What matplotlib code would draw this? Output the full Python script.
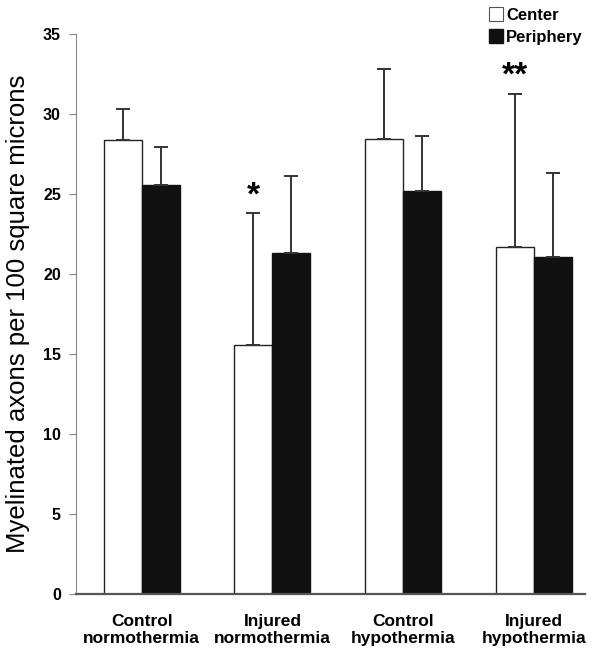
import numpy as np
import matplotlib.pyplot as plt
from matplotlib.lines import Line2D

plt.rcParams['font.family'] = ['Liberation Sans', 'DejaVu Sans']

# data
groups = ["Control\nnormothermia", "Injured\nnormothermia",
          "Control\nhypothermia", "Injured\nhypothermia"]
center = [28.4, 15.6, 28.45, 21.7]
center_err = [1.9, 8.2, 4.4, 9.55]
periphery = [25.6, 21.35, 25.2, 21.05]
periphery_err = [2.35, 4.8, 3.45, 5.3]
marks = ["", "*", "", "**"]

fig = plt.figure(figsize=(6, 6.54), dpi=100)
ax = fig.add_axes([0.127, 0.0913, 0.848, 0.8563])

x = np.arange(len(groups))
w = 0.29
err_kw = dict(ecolor="#333333", elinewidth=1.4, capsize=5, capthick=1.4)

ax.bar(x - w / 2, center, w, color="white", edgecolor="#222222", linewidth=1.0,
       yerr=[np.zeros(4), center_err], error_kw=err_kw, zorder=2)
ax.bar(x + w / 2, periphery, w, color="#111111", edgecolor="#111111", linewidth=1.0,
       yerr=[np.zeros(4), periphery_err], error_kw=err_kw, zorder=2)

# significance marks above the center bars
for i, m in enumerate(marks):
    if m:
        ax.text(x[i] - w / 2, center[i] + center_err[i] + 0.15, m,
                ha="center", va="bottom", fontsize=24, fontweight="bold")

ax.set_xlim(-0.5, 3.39)
ax.set_ylim(0, 35)
ax.set_yticks(np.arange(0, 36, 5))
ax.set_xticks(x)
ax.set_xticklabels(groups, fontsize=12.5, fontweight="bold", linespacing=1.15)
for lab in ax.get_yticklabels():
    lab.set_fontweight("bold")
    lab.set_fontsize(11.5)
ax.tick_params(axis="x", length=0, pad=14)
ax.tick_params(axis="y", length=5, width=0.8, color="#888888", pad=6)

ax.spines["top"].set_visible(False)
ax.spines["right"].set_visible(False)
ax.spines["left"].set_color("#888888")
ax.spines["left"].set_linewidth(0.8)
ax.spines["bottom"].set_color("#555555")
ax.spines["bottom"].set_linewidth(1.6)

ax.set_ylabel("Myelinated axons per 100 square microns", fontsize=18.5, labelpad=9)

handles = [
    Line2D([], [], marker="s", linestyle="", markersize=9.5,
           markerfacecolor="white", markeredgecolor="#555555", markeredgewidth=0.8),
    Line2D([], [], marker="s", linestyle="", markersize=9.5,
           markerfacecolor="#111111", markeredgecolor="#111111"),
]
leg = fig.legend(handles, ["Center", "Periphery"], loc="upper left",
                 bbox_to_anchor=(0.803, 0.998), frameon=False, handletextpad=0.15,
                 handlelength=0.9, labelspacing=0.4, borderaxespad=0,
                 prop={"weight": "bold", "size": 12})

fig.savefig("out.png", dpi=100)
